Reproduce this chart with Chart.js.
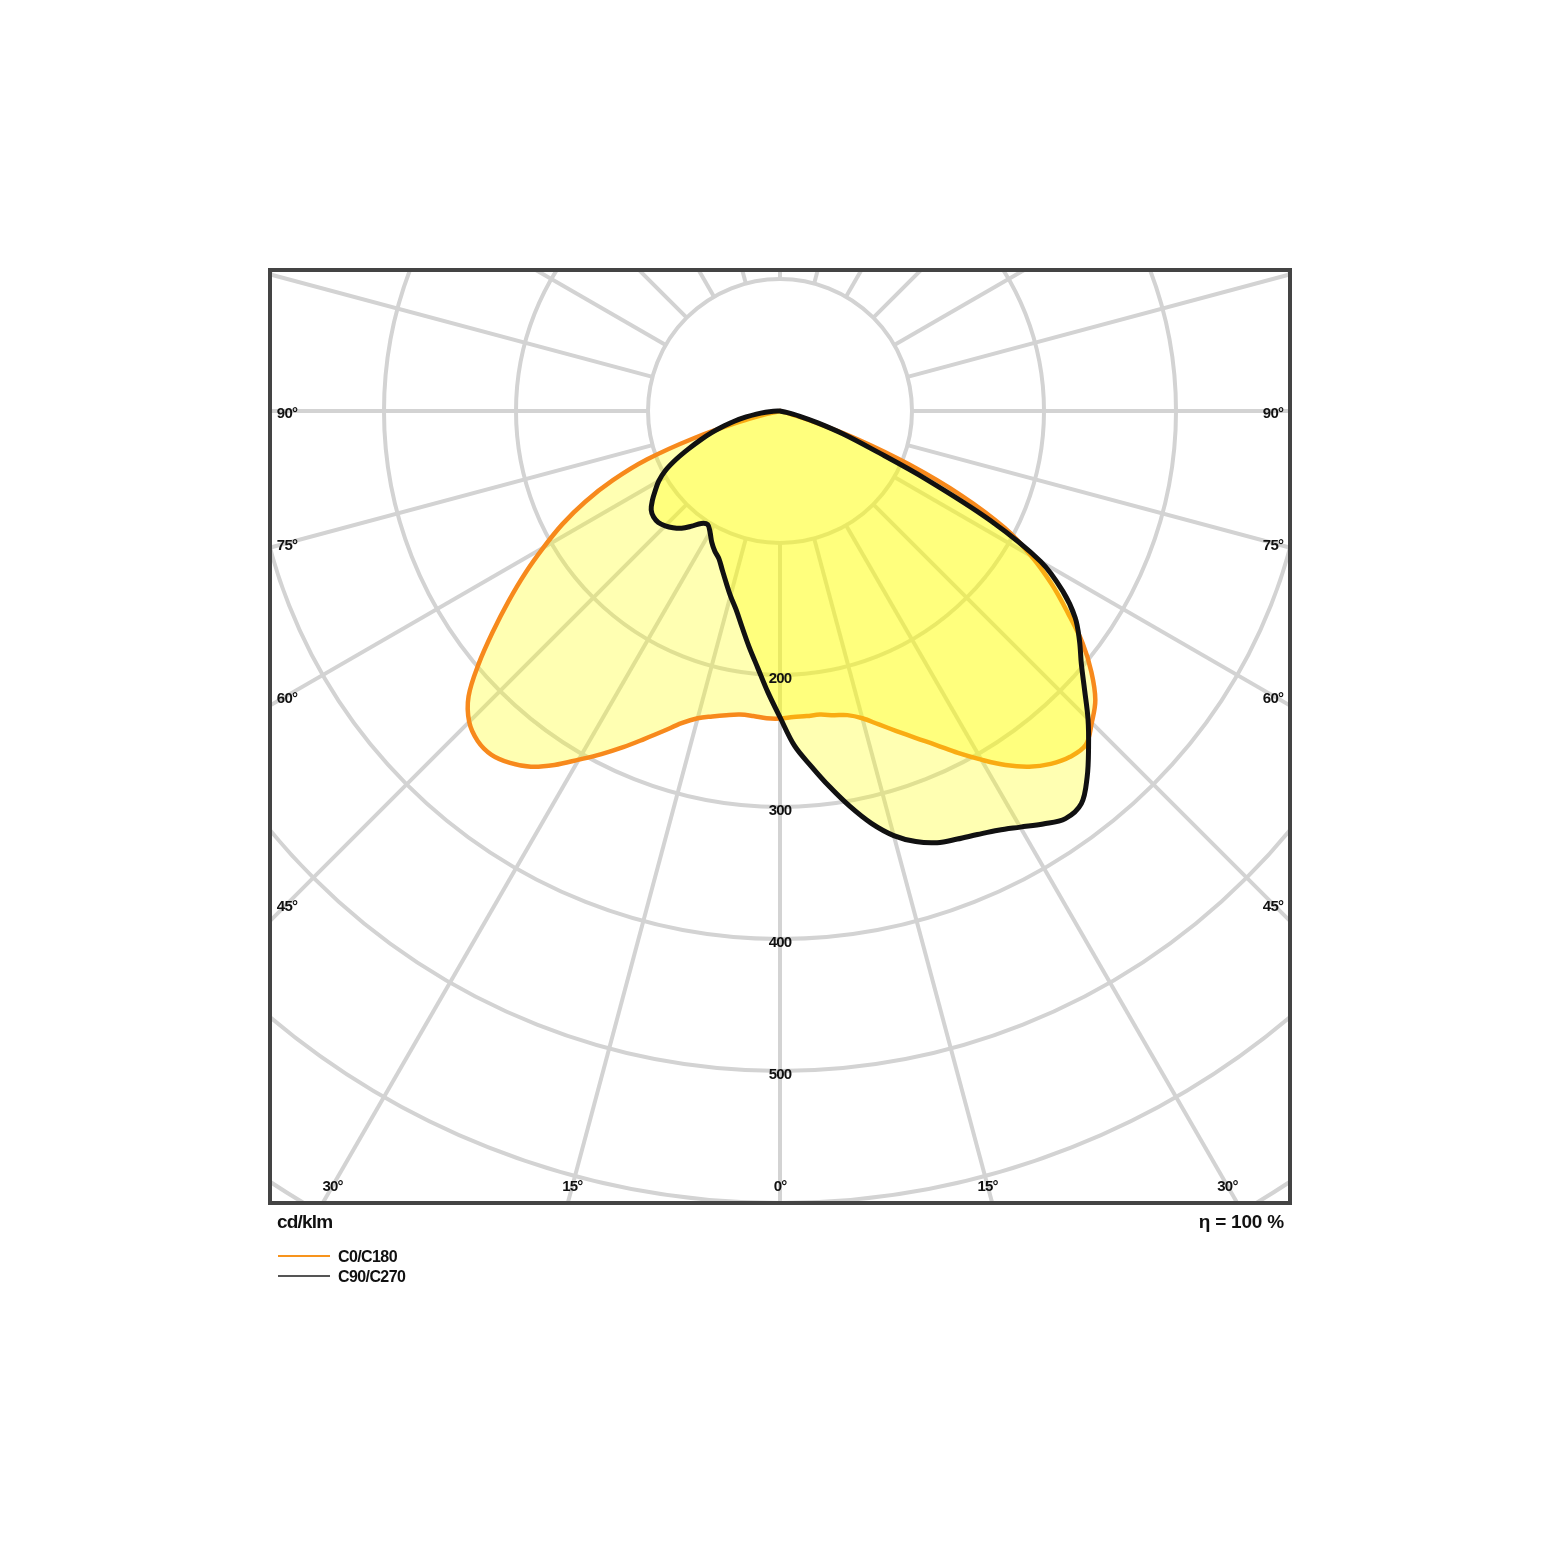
<!DOCTYPE html>
<html>
<head>
<meta charset="utf-8">
<title>Luminous intensity distribution</title>
<script src="https://cdn.jsdelivr.net/npm/chart.js@4.4.1/dist/chart.umd.min.js"></script>
<style>
  html, body { margin: 0; padding: 0; background: #fff; }
  #wrap { position: relative; width: 1560px; height: 1561px; }
  #box { position: absolute; left: 0; top: 0; width: 1560px; height: 1561px; }
  .lbl {
    position: absolute;
    font-family: "Liberation Sans", Arial, sans-serif;
    font-weight: bold;
    color: #111;
    letter-spacing: -0.8px;
    white-space: nowrap;
  }
  .key { position: absolute; left: 278px; width: 52px; height: 1.5px; }
</style>
</head>
<body>
<div id="wrap">
  <div id="box"><canvas id="ldc"></canvas></div>
  <div class="lbl" style="left:277px; top:1211px; font-size:19px; line-height:22px;">cd/klm</div>
  <div class="lbl" style="right:276px; top:1211px; font-size:19px; line-height:22px; letter-spacing:-0.2px;">η = 100 %</div>
  <div class="key" style="top:1255px; background:#f7941d;"></div>
  <div class="lbl" style="left:338px; top:1248px; font-size:16px; line-height:18px; letter-spacing:-0.6px;">C0/C180</div>
  <div class="key" style="top:1275px; background:#555;"></div>
  <div class="lbl" style="left:338px; top:1268px; font-size:16px; line-height:18px; letter-spacing:-0.6px;">C90/C270</div>
</div>
<script>
// Polar light distribution (cd/klm), gamma 0 = straight down

// Gamma angles (degrees) shared by every half-plane
const gammas = [0, 2.5, 5, 7.5, 10, 12.5, 15, 17.5, 20, 22.5, 25, 27.5, 30, 32.5, 35, 37.5,
  40, 42.5, 45, 47.5, 50, 52.5, 55, 57.5, 60, 62.5, 65, 67.5, 70, 72.5, 75, 77.5,
  80, 82.5, 85, 87.5, 90];

// C0 (right) and C180 (left) half-planes
const c0 = [233, 232, 232, 232, 234, 236, 241, 249, 258, 268, 279, 292, 305, 318, 329, 337,
  342, 343, 334, 324, 308, 289, 266, 244, 220, 192, 152, 106, 62, 25, 5, 0,
  0, 0, 0, 0, 0];
const c180 = [233, 233, 232, 232, 234, 237, 241, 248, 258, 269, 281, 293, 305, 318, 329, 336,
  340, 339, 333, 320, 298, 274, 251, 229, 207, 186, 163, 137, 107, 68, 32, 10,
  0, 0, 0, 0, 0];

// C90 (right) and C270 (left) half-planes
const c90 = [232, 254, 270, 287, 304, 320, 333, 342, 348, 351, 354, 358, 364, 371, 377, 375,
  362, 346, 330, 313, 298, 286, 273, 254, 228, 180, 122, 76, 51, 30, 15, 5,
  0, 0, 0, 0, 0];
const c270 = [232, 213, 195, 180, 166, 154, 145, 136, 128, 121, 117, 112, 106, 102, 104, 110,
  116, 120, 123, 125, 125, 123, 118, 112, 106, 98, 87, 75, 64, 54, 44, 35,
  26, 18, 11, 5, 0];

// Grid and tick labels
const ringValues = [100, 200, 300, 400, 500, 600, 700];
const ringLabels = [200, 300, 400, 500];
const spokeAngles = [-165, -150, -135, -120, -105, -90, -75, -60, -45, -30, -15, 0,
  15, 30, 45, 60, 75, 90, 105, 120, 135, 150, 165, 180];
const sideAngles = [90, 75, 60, 45];
const bottomAngles = [-30, -15, 0, 15, 30];

const GRID_COLOR = '#d3d3d3';
const FILL_COLOR = 'rgba(255, 255, 0, 0.3)';
const FONT = 'bold 15px "Liberation Sans", Arial, sans-serif';

// polar (r, gamma) to x/y in cd/klm units; side -1 = left half, +1 = right half
function toXY(r, g, side) {
  const t = g * Math.PI / 180;
  return { x: side * r * Math.sin(t), y: -r * Math.cos(t) };
}

// closed outline: left half from 90 down to 0, then right half from 0 up to 90
function buildShape(leftR, rightR) {
  const pts = [];
  for (let i = gammas.length - 1; i >= 0; i--) pts.push(toXY(leftR[i], gammas[i], -1));
  for (let i = 1; i < gammas.length; i++) pts.push(toXY(rightR[i], gammas[i], 1));
  return pts.filter((p, i) => i === 0 || p.x !== pts[i - 1].x || p.y !== pts[i - 1].y);
}

// grid rings, spokes, labels and frame
const polarGrid = {
  id: 'polarGrid',
  beforeDatasetsDraw(chart) {
    const { ctx, chartArea: a, scales: { x, y } } = chart;
    const cx = x.getPixelForValue(0);
    const cy = y.getPixelForValue(0);
    const px = v => x.getPixelForValue(v) - cx;
    ctx.save();
    ctx.beginPath();
    ctx.rect(a.left, a.top, a.right - a.left, a.bottom - a.top);
    ctx.clip();
    ctx.strokeStyle = GRID_COLOR;
    ctx.lineWidth = 4;
    ringValues.forEach(v => {
      ctx.beginPath();
      ctx.arc(cx, cy, px(v), 0, Math.PI * 2);
      ctx.stroke();
    });
    const r0 = px(ringValues[0]);
    const r1 = px(1000);
    spokeAngles.forEach(g => {
      const t = g * Math.PI / 180;
      ctx.beginPath();
      ctx.moveTo(cx + r0 * Math.sin(t), cy + r0 * Math.cos(t));
      ctx.lineTo(cx + r1 * Math.sin(t), cy + r1 * Math.cos(t));
      ctx.stroke();
    });
    ctx.restore();
  },
  afterDatasetsDraw(chart) {
    const { ctx, chartArea: a, scales: { x, y } } = chart;
    const cx = x.getPixelForValue(0);
    const cy = y.getPixelForValue(0);
    ctx.save();
    ctx.font = FONT;
    ctx.fillStyle = '#111';
    ctx.letterSpacing = '-0.8px';
    ctx.textAlign = 'center';
    ctx.textBaseline = 'middle';

    ringLabels.forEach(v => {
      ctx.fillText(String(v), cx, y.getPixelForValue(-v) + 4);
    });

    // angle labels along the left and right edges
    const inset = 17;
    sideAngles.forEach(g => {
      const t = g * Math.PI / 180;
      const lx = a.left + inset;
      const rx = a.right - inset;
      const dy = g === 90 ? 0 : (cx - lx) / Math.tan(t);
      ctx.fillText(g + '°', lx, cy + dy + 3);
      ctx.fillText(g + '°', rx, cy + dy + 3);
    });

    // angle labels along the bottom edge
    bottomAngles.forEach(g => {
      const t = g * Math.PI / 180;
      const by = a.bottom - inset;
      ctx.fillText(Math.abs(g) + '°', cx + (by - cy) * Math.tan(t), by + 1);
    });

    // frame
    ctx.strokeStyle = '#444';
    ctx.lineWidth = 4;
    ctx.strokeRect(a.left, a.top, a.right - a.left, a.bottom - a.top);
    ctx.restore();
  }
};

const ctx = document.getElementById('ldc');
new Chart(ctx, {
  type: 'scatter',
  data: {
    datasets: [
      {
        label: 'C90/C270',
        data: buildShape(c270, c90),
        showLine: true,
        borderColor: '#111',
        borderWidth: 5,
        backgroundColor: FILL_COLOR,
        fill: 'shape',
        tension: 0.35,
        pointRadius: 0,
        borderJoinStyle: 'round',
        borderCapStyle: 'round'
      },
      {
        label: 'C0/C180',
        data: buildShape(c180, c0),
        showLine: true,
        borderColor: '#f7891c',
        borderWidth: 4.5,
        backgroundColor: FILL_COLOR,
        fill: 'shape',
        tension: 0.35,
        pointRadius: 0,
        borderJoinStyle: 'round',
        borderCapStyle: 'round'
      }
    ]
  },
  options: {
    responsive: true,
    maintainAspectRatio: false,
    animation: false,
    events: [],
    layout: { padding: { left: 270, right: 270, top: 270, bottom: 358 } },
    scales: {
      x: { type: 'linear', min: -510 / 1.32, max: 510 / 1.32, display: false },
      y: { type: 'linear', min: -600, max: 141 / 1.32, display: false }
    },
    plugins: {
      legend: { display: false },
      tooltip: { enabled: false },
      filler: { propagate: false }
    }
  },
  plugins: [polarGrid]
});
</script>
</body>
</html>
